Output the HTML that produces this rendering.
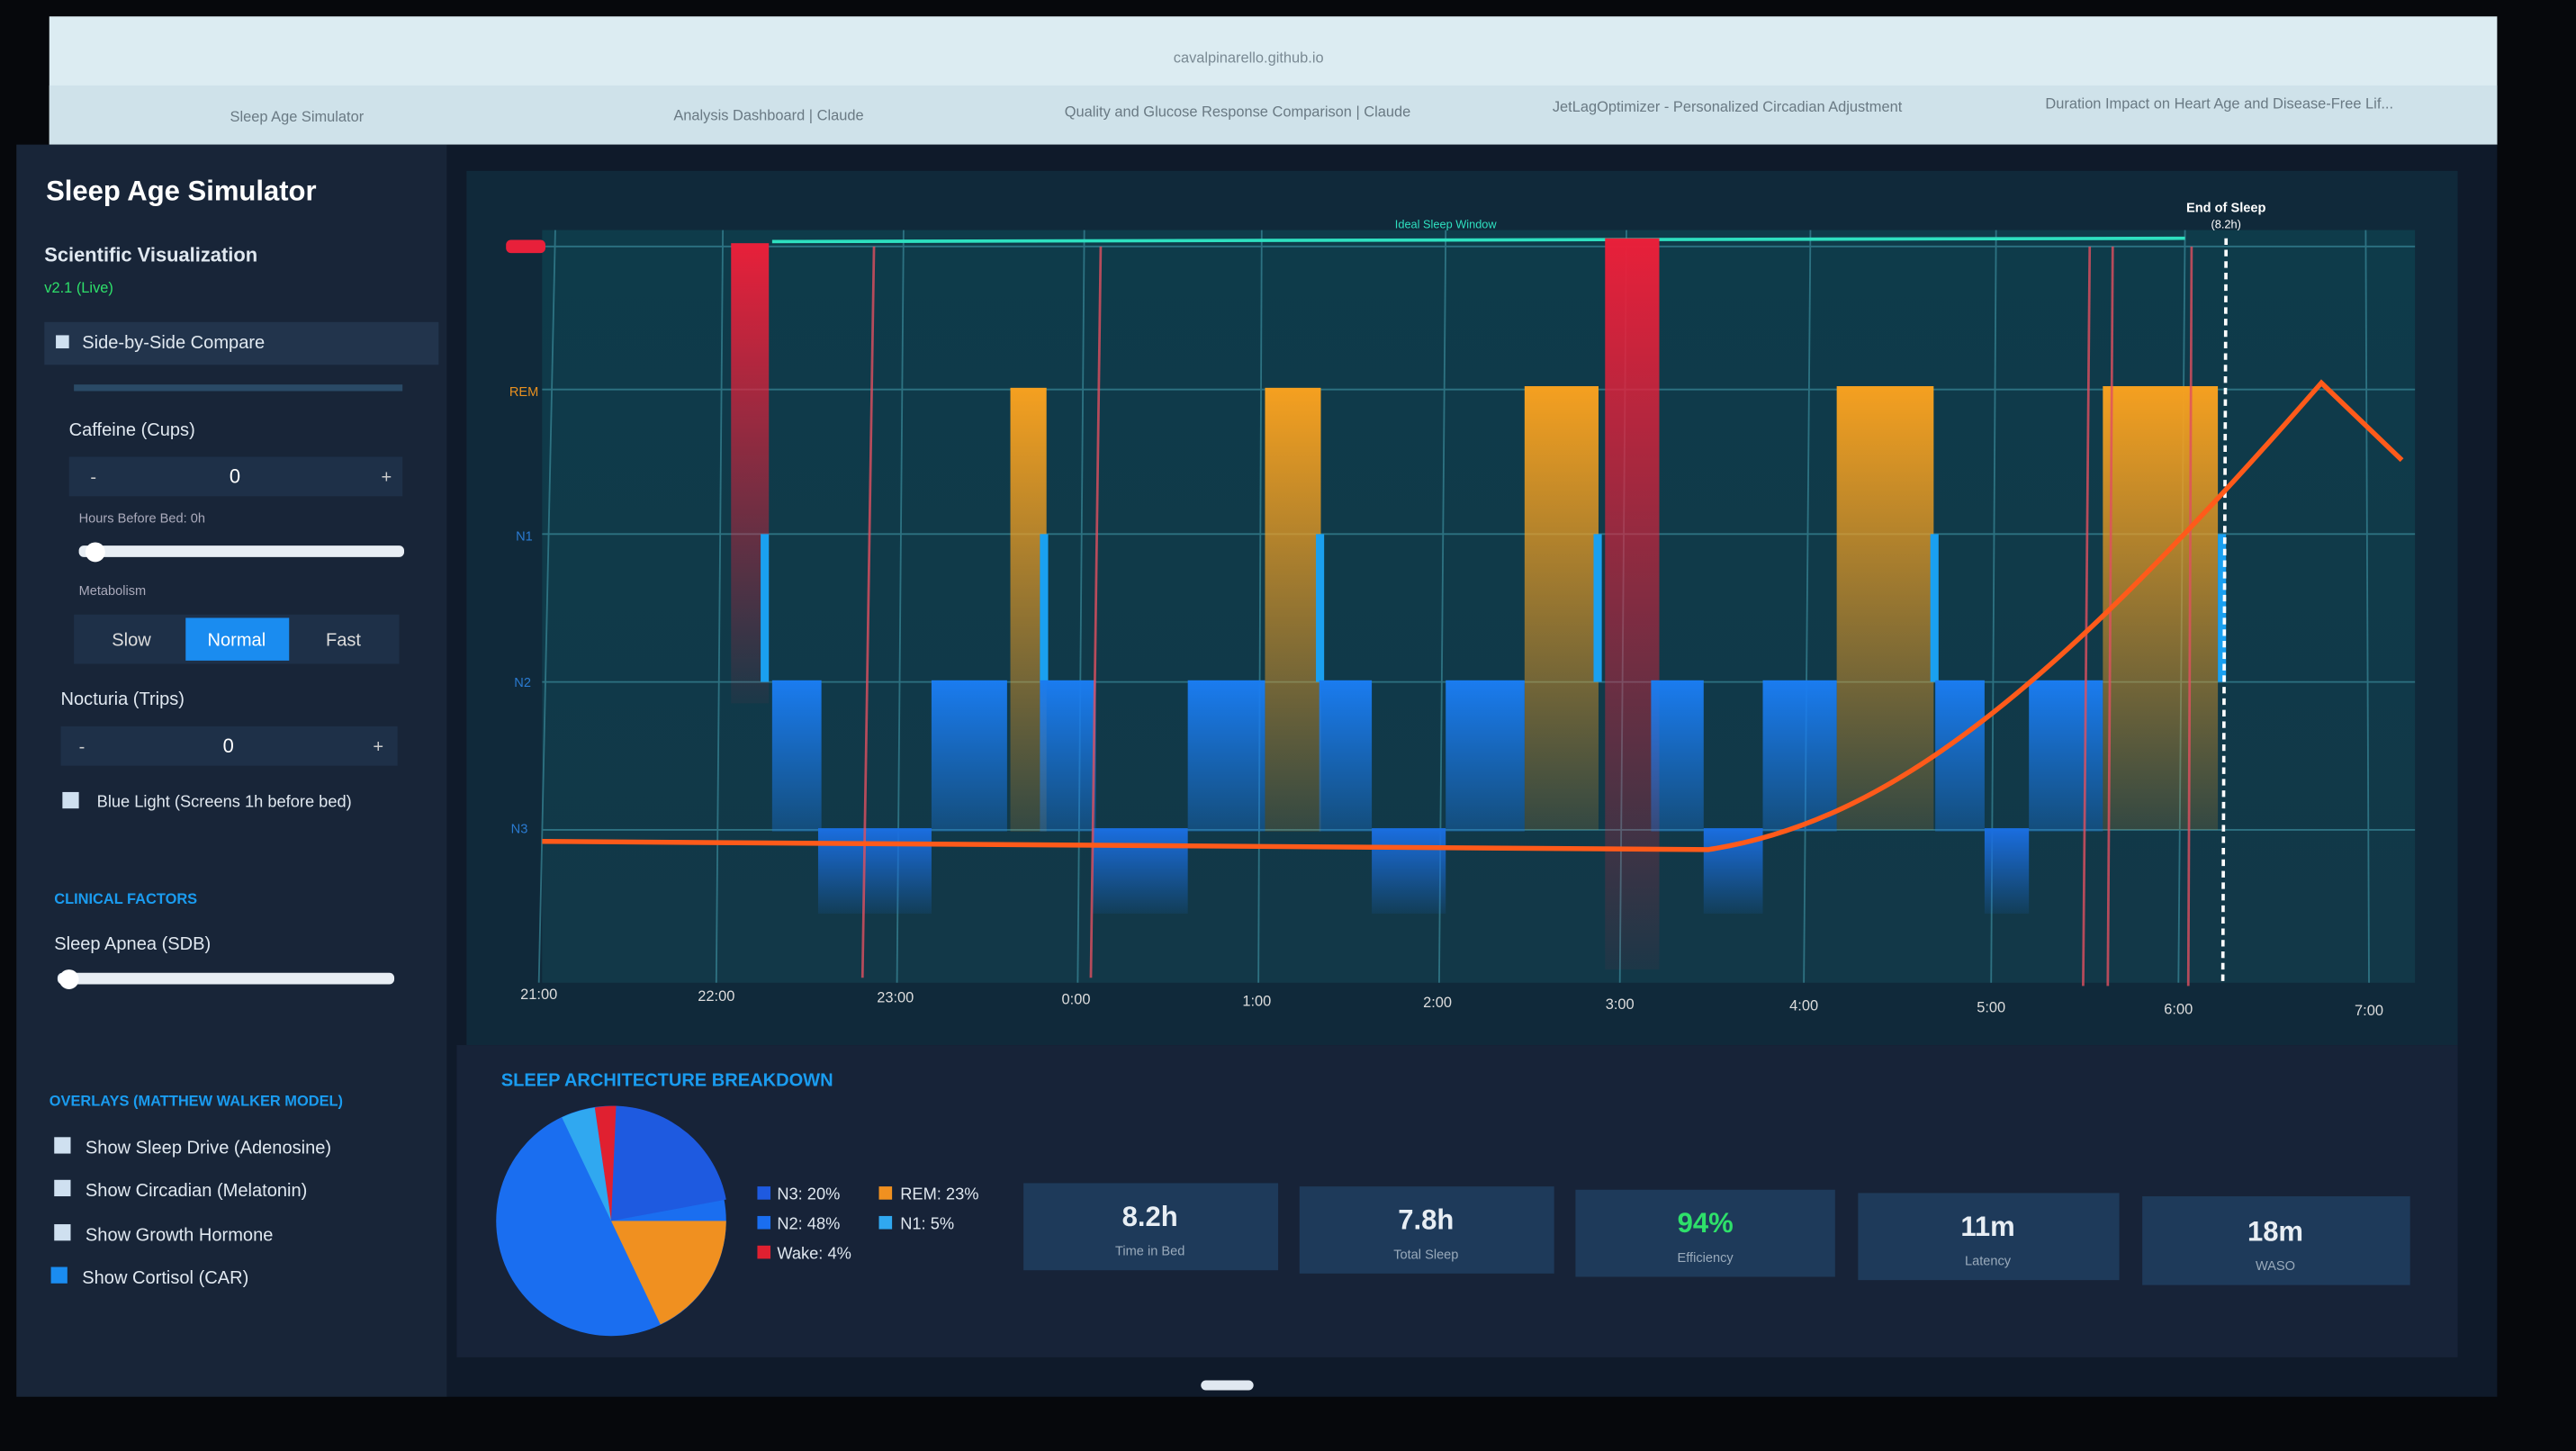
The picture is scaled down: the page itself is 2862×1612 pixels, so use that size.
<!DOCTYPE html>
<html><head><meta charset="utf-8"><style>
html,body{margin:0;padding:0;background:#050608;}
svg{display:block;}
text{font-family:"Liberation Sans",sans-serif;}
</style></head><body>
<svg width="2862" height="1612" viewBox="0 0 1568 883" preserveAspectRatio="none" xmlns="http://www.w3.org/2000/svg">
<defs>
<linearGradient id="gr" x1="0" y1="0" x2="0" y2="1"><stop offset="0" stop-color="#e8203a"/><stop offset="1" stop-color="#e8203a" stop-opacity="0.05"/></linearGradient>
<linearGradient id="go" x1="0" y1="0" x2="0" y2="1"><stop offset="0" stop-color="#f5a020"/><stop offset="1" stop-color="#f5a020" stop-opacity="0.15"/></linearGradient>
<linearGradient id="gb" x1="0" y1="0" x2="0" y2="1"><stop offset="0" stop-color="#1a7cf0"/><stop offset="1" stop-color="#1a7cf0" stop-opacity="0.3"/></linearGradient>
<linearGradient id="gb3" x1="0" y1="0" x2="0" y2="1"><stop offset="0" stop-color="#1a6ee0"/><stop offset="1" stop-color="#1a6ee0" stop-opacity="0.1"/></linearGradient>
<linearGradient id="bg" x1="0" y1="0" x2="0" y2="1"><stop offset="0" stop-color="#0e3b4a"/><stop offset="1" stop-color="#123848"/></linearGradient>
</defs>
<rect width="1568" height="883" fill="#06080c"/>
<!-- browser chrome -->
<rect x="30" y="10" width="1490" height="78" fill="#dcecf2"/>
<rect x="30" y="52" width="1490" height="36" fill="#cfe2ea"/>
<text x="760" y="38" font-size="9" fill="#7a8a94" text-anchor="middle">cavalpinarello.github.io</text>
<text x="140" y="74" font-size="9" fill="#6a7a84">Sleep Age Simulator</text>
<text x="410" y="73" font-size="9" fill="#6a7a84">Analysis Dashboard | Claude</text>
<text x="648" y="71" font-size="9" fill="#6a7a84">Quality and Glucose Response Comparison | Claude</text>
<text x="945" y="68" font-size="9" fill="#6a7a84">JetLagOptimizer - Personalized Circadian Adjustment</text>
<text x="1245" y="66" font-size="9" fill="#6a7a84">Duration Impact on Heart Age and Disease-Free Lif...</text>
<!-- sidebar -->
<rect x="10" y="88" width="262" height="762" fill="#182538"/>
<rect x="272" y="88" width="1248" height="762" fill="#0f1a2a"/>
<text x="28" y="122" font-size="17" font-weight="bold" fill="#ffffff">Sleep Age Simulator</text>
<text x="27" y="159" font-size="12" font-weight="bold" fill="#e0e8f0">Scientific Visualization</text>
<text x="27" y="178" font-size="9" fill="#2ee06a">v2.1 (Live)</text>
<rect x="27" y="196" width="240" height="26" fill="#22344c"/>
<rect x="34" y="204" width="8" height="8" fill="#cfe0f0"/>
<text x="50" y="212" font-size="11" fill="#e0e8f0">Side-by-Side Compare</text>
<rect x="45" y="234" width="200" height="4" fill="#2a4a66"/>
<text x="42" y="265" font-size="11" fill="#e0e8f0">Caffeine (Cups)</text>
<rect x="42" y="278" width="203" height="24" fill="#1e3048"/>
<text x="55" y="294" font-size="11" fill="#ccc">-</text><text x="143" y="294" font-size="12" fill="#fff" text-anchor="middle">0</text><text x="232" y="294" font-size="11" fill="#ccc">+</text>
<text x="48" y="318" font-size="8" fill="#aab">Hours Before Bed: 0h</text>
<rect x="48" y="332" width="198" height="7" rx="3" fill="#e8eef4"/><circle cx="58" cy="336" r="6" fill="#fff"/>
<text x="48" y="362" font-size="8" fill="#aab">Metabolism</text>
<rect x="45" y="374" width="198" height="30" fill="#1e3048"/>
<text x="80" y="393" font-size="11" fill="#ddd" text-anchor="middle">Slow</text>
<rect x="113" y="376" width="63" height="26" fill="#1a8cf0"/>
<text x="144" y="393" font-size="11" fill="#fff" text-anchor="middle">Normal</text>
<text x="209" y="393" font-size="11" fill="#ddd" text-anchor="middle">Fast</text>
<text x="37" y="429" font-size="11" fill="#e0e8f0">Nocturia (Trips)</text>
<rect x="37" y="442" width="205" height="24" fill="#1e3048"/>
<text x="48" y="458" font-size="11" fill="#ccc">-</text><text x="139" y="458" font-size="12" fill="#fff" text-anchor="middle">0</text><text x="227" y="458" font-size="11" fill="#ccc">+</text>
<rect x="38" y="482" width="10" height="10" fill="#cfe0f0"/>
<text x="59" y="491" font-size="10" fill="#e0e8f0">Blue Light (Screens 1h before bed)</text>
<text x="33" y="550" font-size="9" font-weight="bold" fill="#1a9cf0">CLINICAL FACTORS</text>
<text x="33" y="578" font-size="11" fill="#e0e8f0">Sleep Apnea (SDB)</text>
<rect x="35" y="592" width="205" height="7" rx="3" fill="#e8eef4"/><circle cx="42" cy="596" r="6" fill="#fff"/>
<text x="30" y="673" font-size="9" font-weight="bold" fill="#1a9cf0">OVERLAYS (MATTHEW WALKER MODEL)</text>
<g font-size="11" fill="#e0e8f0">
<rect x="33" y="692" width="10" height="10" fill="#cfe0f0"/><text x="52" y="702">Show Sleep Drive (Adenosine)</text>
<rect x="33" y="718" width="10" height="10" fill="#cfe0f0"/><text x="52" y="728">Show Circadian (Melatonin)</text>
<rect x="33" y="745" width="10" height="10" fill="#cfe0f0"/><text x="52" y="755">Show Growth Hormone</text>
<rect x="31" y="771" width="10" height="10" fill="#1a8cf0"/><text x="50" y="781">Show Cortisol (CAR)</text>
</g>
<!-- chart panel -->
<rect x="284" y="104" width="1212" height="532" fill="#10293a"/>
<rect x="330" y="140" width="1140" height="458" fill="url(#bg)"/>
<g stroke="#3a8a9a" stroke-width="1" opacity="0.7">
<line x1="330" y1="150" x2="1470" y2="150"/><line x1="330" y1="237" x2="1470" y2="237"/><line x1="330" y1="325" x2="1470" y2="325"/><line x1="330" y1="415" x2="1470" y2="415"/><line x1="330" y1="505" x2="1470" y2="505"/>
<line x1="338" y1="140" x2="328" y2="598"/><line x1="440" y1="140" x2="436" y2="598"/><line x1="550" y1="140" x2="546" y2="598"/><line x1="660" y1="140" x2="656" y2="598"/><line x1="768" y1="140" x2="766" y2="598"/><line x1="880" y1="140" x2="876" y2="598"/><line x1="990" y1="140" x2="986" y2="598"/><line x1="1102" y1="140" x2="1098" y2="598"/><line x1="1215" y1="140" x2="1212" y2="598"/><line x1="1330" y1="140" x2="1326" y2="598"/><line x1="1440" y1="140" x2="1442" y2="598"/>
</g>
<g font-size="8" fill="#e89020"><rect x="308" y="146" width="24" height="8" rx="3" fill="#e8203a"/><text x="310" y="241">REM</text></g>
<g font-size="8" fill="#2a7ad0"><text x="314" y="329">N1</text><text x="313" y="418">N2</text><text x="311" y="507">N3</text></g>
<line x1="470" y1="147" x2="1330" y2="145" stroke="#2ee0c0" stroke-width="2"/>
<text x="880" y="139" font-size="7" fill="#2ee0c0" text-anchor="middle">Ideal Sleep Window</text>
<!-- red bars -->
<rect x="445" y="148" width="23" height="280" fill="url(#gr)"/>
<rect x="977" y="145" width="33" height="445" fill="url(#gr)"/>
<!-- orange -->
<rect x="615" y="236" width="22" height="270" fill="url(#go)"/>
<rect x="770" y="236" width="34" height="270" fill="url(#go)"/>
<rect x="928" y="235" width="45" height="270" fill="url(#go)"/>
<rect x="1118" y="235" width="59" height="270" fill="url(#go)"/>
<rect x="1280" y="235" width="70" height="270" fill="url(#go)"/>
<!-- blue N1 thin -->
<g fill="#1aa0f0"><rect x="463" y="325" width="5" height="90"/><rect x="633" y="325" width="5" height="90"/><rect x="801" y="325" width="5" height="90"/><rect x="970" y="325" width="5" height="90"/><rect x="1175" y="325" width="5" height="90"/><rect x="1350" y="325" width="5" height="90"/></g>
<!-- N2 -->
<g fill="url(#gb)">
<rect x="470" y="414" width="30" height="92"/><rect x="567" y="414" width="46" height="92"/><rect x="633" y="414" width="34" height="92"/><rect x="723" y="414" width="47" height="92"/><rect x="803" y="414" width="32" height="92"/><rect x="880" y="414" width="48" height="92"/><rect x="1005" y="414" width="32" height="92"/><rect x="1073" y="414" width="45" height="92"/><rect x="1178" y="414" width="30" height="92"/><rect x="1235" y="414" width="45" height="92"/>
</g>
<g fill="url(#gb3)">
<rect x="498" y="504" width="69" height="52"/><rect x="665" y="504" width="58" height="52"/><rect x="835" y="504" width="45" height="52"/><rect x="1037" y="504" width="36" height="52"/><rect x="1208" y="504" width="27" height="52"/>
</g>
<!-- pink lines -->
<g stroke="#e05060" stroke-width="1.5" opacity="0.8">
<line x1="532" y1="150" x2="525" y2="595"/><line x1="670" y1="150" x2="664" y2="595"/><line x1="1272" y1="150" x2="1268" y2="600"/><line x1="1286" y1="150" x2="1283" y2="600"/><line x1="1334" y1="150" x2="1332" y2="600"/>
</g>
<line x1="1355" y1="145" x2="1353" y2="600" stroke="#ffffff" stroke-width="2" stroke-dasharray="4,3"/>
<text x="1355" y="129" font-size="8" fill="#fff" text-anchor="middle" font-weight="bold">End of Sleep</text>
<text x="1355" y="139" font-size="7" fill="#fff" text-anchor="middle">(8.2h)</text>
<path d="M330 512 L1040 517 C1150 500 1250 420 1413 233 L1462 280" fill="none" stroke="#ff5a1a" stroke-width="3"/>
<g font-size="9" fill="#ddd" text-anchor="middle">
<text x="328" y="608">21:00</text><text x="436" y="609">22:00</text><text x="545" y="610">23:00</text><text x="655" y="611">0:00</text><text x="765" y="612">1:00</text><text x="875" y="613">2:00</text><text x="986" y="614">3:00</text><text x="1098" y="615">4:00</text><text x="1212" y="616">5:00</text><text x="1326" y="617">6:00</text><text x="1442" y="618">7:00</text>
</g>
<!-- bottom panel -->
<rect x="278" y="636" width="1218" height="190" fill="#172338"/>
<text x="305" y="661" font-size="11" font-weight="bold" fill="#1a9cf0">SLEEP ARCHITECTURE BREAKDOWN</text>
<circle cx="372" cy="743" r="70" fill="#1a6ef0"/>
<path d="M372 743 L442 743 A70 70 0 0 1 402 806 Z" fill="#f09020"/>
<path d="M372 743 L375 673 A70 70 0 0 1 442 730 Z" fill="#1e5ae0"/>
<path d="M372 743 L362 674 A70 70 0 0 1 375 673 Z" fill="#e02030"/>
<path d="M372 743 L342 680 A70 70 0 0 1 362 674 Z" fill="#30a8f0"/>
<g font-size="10" fill="#e0e8f0">
<rect x="461" y="722" width="8" height="8" fill="#1e5ae0"/><text x="473" y="730">N3: 20%</text>
<rect x="535" y="722" width="8" height="8" fill="#f09020"/><text x="548" y="730">REM: 23%</text>
<rect x="461" y="740" width="8" height="8" fill="#1a6ef0"/><text x="473" y="748">N2: 48%</text>
<rect x="535" y="740" width="8" height="8" fill="#30a8f0"/><text x="548" y="748">N1: 5%</text>
<rect x="461" y="758" width="8" height="8" fill="#e02030"/><text x="473" y="766">Wake: 4%</text>
</g>
<g fill="#1e3a5a">
<rect x="623" y="720" width="155" height="53"/><rect x="791" y="722" width="155" height="53"/><rect x="959" y="724" width="158" height="53"/><rect x="1131" y="726" width="159" height="53"/><rect x="1304" y="728" width="163" height="54"/>
</g>
<g text-anchor="middle" font-weight="bold" font-size="17" fill="#e8eef4">
<text x="700" y="746">8.2h</text><text x="868" y="748">7.8h</text><text x="1038" y="750" fill="#2ee06a">94%</text><text x="1210" y="752">11m</text><text x="1385" y="755">18m</text>
</g>
<g text-anchor="middle" font-size="8" fill="#9ab">
<text x="700" y="764">Time in Bed</text><text x="868" y="766">Total Sleep</text><text x="1038" y="768">Efficiency</text><text x="1210" y="770">Latency</text><text x="1385" y="773">WASO</text>
</g>
<rect x="731" y="840" width="32" height="6" rx="3" fill="#e0e8f0"/>
</svg>
</body></html>
